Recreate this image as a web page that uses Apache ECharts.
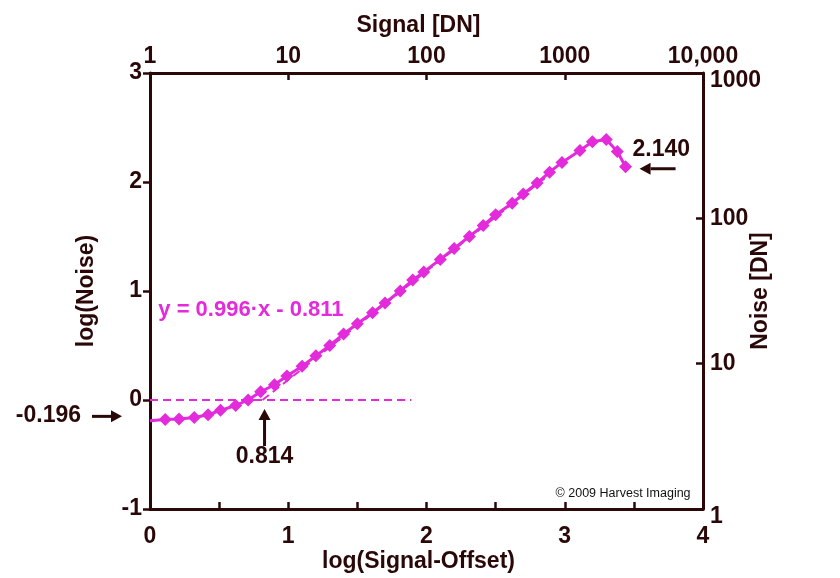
<!DOCTYPE html>
<html>
<head>
<meta charset="utf-8">
<script src="https://cdn.jsdelivr.net/npm/echarts@6/dist/echarts.min.js"></script>
<style>
  html, body { margin: 0; padding: 0; background: #fff; }
  #chart { width: 840px; height: 578px; }
</style>
</head>
<body>
<div id="chart"></div>
<script>
// measured points: log(Signal-Offset) vs log(Noise)
const logSignal = [0, 0.11, 0.21, 0.32, 0.42, 0.51, 0.62, 0.71, 0.80, 0.90, 0.99, 1.10, 1.20, 1.30, 1.40, 1.50, 1.61, 1.70,
  1.81, 1.90, 1.98, 2.10, 2.20, 2.31, 2.41, 2.50, 2.62, 2.70, 2.80, 2.89, 2.98, 3.11, 3.20, 3.30, 3.38, 3.44]
const logNoise = [-0.19, -0.18, -0.175, -0.16, -0.135, -0.095, -0.05, 0.0, 0.075, 0.14, 0.22, 0.31, 0.405, 0.50, 0.605, 0.70, 0.80, 0.89,
  1.00, 1.10, 1.175, 1.29, 1.39, 1.50, 1.60, 1.70, 1.805, 1.89, 1.99, 2.09, 2.18, 2.29, 2.37, 2.39, 2.28, 2.14]

// fit line y = 0.996*x - 0.811 (end points) and the zero level
const fitX = [0.814, 2.9]
const fitY = [0, 2.078]
const zeroX = [0, 1.89]
const zeroY = [0, 0]

const signalTicks = ['1', '10', '100', '1000', '10,000']
const floorLevel = -0.196
const fitCross = 0.814
const lastNoise = 2.140

const ink = '#2b0808'
const pink = '#E32BDB'
const font = 'Liberation Sans, Arial, sans-serif'

const labelStyle = { color: ink, fontSize: 23, fontWeight: 'bold', fontFamily: font }
const nameStyle = { color: ink, fontSize: 23, fontWeight: 'bold', fontFamily: font }
const lineAxis = { show: true, onZero: false, lineStyle: { color: ink, width: 3 } }

const chart = echarts.init(document.getElementById('chart'))

chart.setOption({
  animation: false,
  grid: { left: 150, right: 137, top: 73, bottom: 66 },
  xAxis: [
    {
      type: 'value',
      position: 'bottom',
      min: 0,
      max: 4,
      interval: 0.5,
      axisLine: lineAxis,
      axisTick: { inside: true, length: 7, lineStyle: { color: ink, width: 2.5 } },
      axisLabel: Object.assign({
        margin: 16,
        showMinLabel: true,
        showMaxLabel: true,
        formatter: (v) => (Number.isInteger(v) ? String(v) : '')
      }, labelStyle),
      splitLine: { show: false },
      name: 'log(Signal-Offset)',
      nameLocation: 'middle',
      nameGap: 41,
      nameMoveOverlap: false,
      nameTextStyle: Object.assign({ padding: [0, 16, 0, 0] }, nameStyle)
    },
    {
      type: 'value',
      position: 'top',
      min: 0,
      max: 4,
      interval: 1,
      axisLine: lineAxis,
      axisTick: { inside: true, length: 7, lineStyle: { color: ink, width: 2.5 } },
      axisLabel: Object.assign({
        margin: 5,
        showMinLabel: true,
        showMaxLabel: true,
        formatter: (v) => signalTicks[Math.round(v)]
      }, labelStyle),
      splitLine: { show: false },
      name: 'Signal [DN]',
      nameLocation: 'middle',
      nameGap: 36,
      nameMoveOverlap: false,
      nameTextStyle: Object.assign({ padding: [0, 16, 0, 0] }, nameStyle)
    }
  ],
  yAxis: [
    {
      type: 'value',
      position: 'left',
      min: -1,
      max: 3,
      interval: 1,
      axisLine: lineAxis,
      axisTick: { inside: false, length: 7, lineStyle: { color: ink, width: 2.5 } },
      axisLabel: Object.assign({ margin: 8 }, labelStyle),
      splitLine: { show: false },
      name: 'log(Noise)',
      nameLocation: 'middle',
      nameRotate: 90,
      nameGap: 52,
      nameMoveOverlap: false,
      nameTextStyle: nameStyle
    },
    {
      type: 'log',
      logBase: 10,
      position: 'right',
      min: 1,
      max: 1000,
      axisLine: lineAxis,
      axisTick: { inside: true, length: 7, lineStyle: { color: ink, width: 2.5 } },
      axisLabel: Object.assign({
        margin: 7,
        formatter: (v) => {
          const n = Math.round(v)
          return n === 1000 || n === 1 ? '{low|' + n + '}' : String(n)
        },
        rich: { low: Object.assign({ padding: [16, 0, 0, 0] }, labelStyle) }
      }, labelStyle),
      splitLine: { show: false },
      name: 'Noise [DN]',
      nameLocation: 'middle',
      nameRotate: 90,
      nameGap: 46,
      nameMoveOverlap: false,
      nameTextStyle: nameStyle
    }
  ],
  series: [
    {
      name: 'zero',
      type: 'line',
      symbol: 'none',
      lineStyle: { color: pink, width: 2, type: [8, 5] },
      data: zeroX.map((x, i) => [x, zeroY[i]])
    },
    {
      name: 'fit',
      type: 'line',
      symbol: 'none',
      lineStyle: { color: pink, width: 2, type: [8, 5] },
      data: fitX.map((x, i) => [x, fitY[i]])
    },
    {
      name: 'noise',
      type: 'line',
      symbol: 'diamond',
      symbolSize: 13,
      itemStyle: { color: pink },
      lineStyle: { color: pink, width: 3 },
      data: logSignal.map((x, i) => (i === 0 ? { value: [x, logNoise[i]], symbol: 'none' } : [x, logNoise[i]]))
    }
  ]
})

// annotations placed from data coordinates
function toPx(x, y) {
  return chart.convertToPixel({ xAxisIndex: 0, yAxisIndex: 0 }, [x, y])
}

function arrow(from, to) {
  const dx = to[0] - from[0]
  const dy = to[1] - from[1]
  const len = Math.hypot(dx, dy)
  const ux = dx / len
  const uy = dy / len
  const hl = 11
  const hw = 6
  const bx = to[0] - ux * hl
  const by = to[1] - uy * hl
  return [
    { type: 'line', z: 10, shape: { x1: from[0], y1: from[1], x2: bx, y2: by }, style: { stroke: ink, lineWidth: 3 } },
    { type: 'polygon', z: 10, shape: { points: [to, [bx - uy * hw, by + ux * hw], [bx + uy * hw, by - ux * hw]] }, style: { fill: ink } }
  ]
}

function label(text, x, y, align, color, size) {
  return {
    type: 'text',
    z: 10,
    x: x,
    y: y,
    style: {
      text: text,
      fill: color || ink,
      font: 'bold ' + (size || 23) + 'px ' + font,
      align: align,
      verticalAlign: 'middle'
    }
  }
}

const pFloor = toPx(0, floorLevel)
const pCross = toPx(fitCross, 0)
const pLast = toPx(logSignal[logSignal.length - 1], lastNoise)
const pEq = toPx(0.06, 0.83)
const pCopy = toPx(3.91, -0.86)

const graphics = []
  .concat(arrow([pFloor[0] - 58, pFloor[1] - 5], [pFloor[0] - 28, pFloor[1] - 5]))
  .concat([label(floorLevel.toFixed(3), pFloor[0] - 69, pFloor[1] - 6, 'right')])
  .concat(arrow([pCross[0] + 2, pCross[1] + 46], [pCross[0] + 2, pCross[1] + 9]))
  .concat([label(fitCross.toFixed(3), pCross[0] + 2, pCross[1] + 57, 'center')])
  .concat(arrow([pLast[0] + 50, pLast[1] + 2], [pLast[0] + 14, pLast[1] + 2]))
  .concat([label(lastNoise.toFixed(3), pLast[0] + 7, pLast[1] - 17, 'left')])
  .concat([label('y = 0.996·x - 0.811', pEq[0], pEq[1], 'left', pink, 22)])
  .concat([{
    type: 'text',
    z: 10,
    x: pCopy[0],
    y: pCopy[1],
    style: { text: '© 2009 Harvest Imaging', fill: '#111', font: '12.5px ' + font, align: 'right', verticalAlign: 'middle' }
  }])

chart.setOption({ graphic: graphics })
</script>
</body>
</html>
